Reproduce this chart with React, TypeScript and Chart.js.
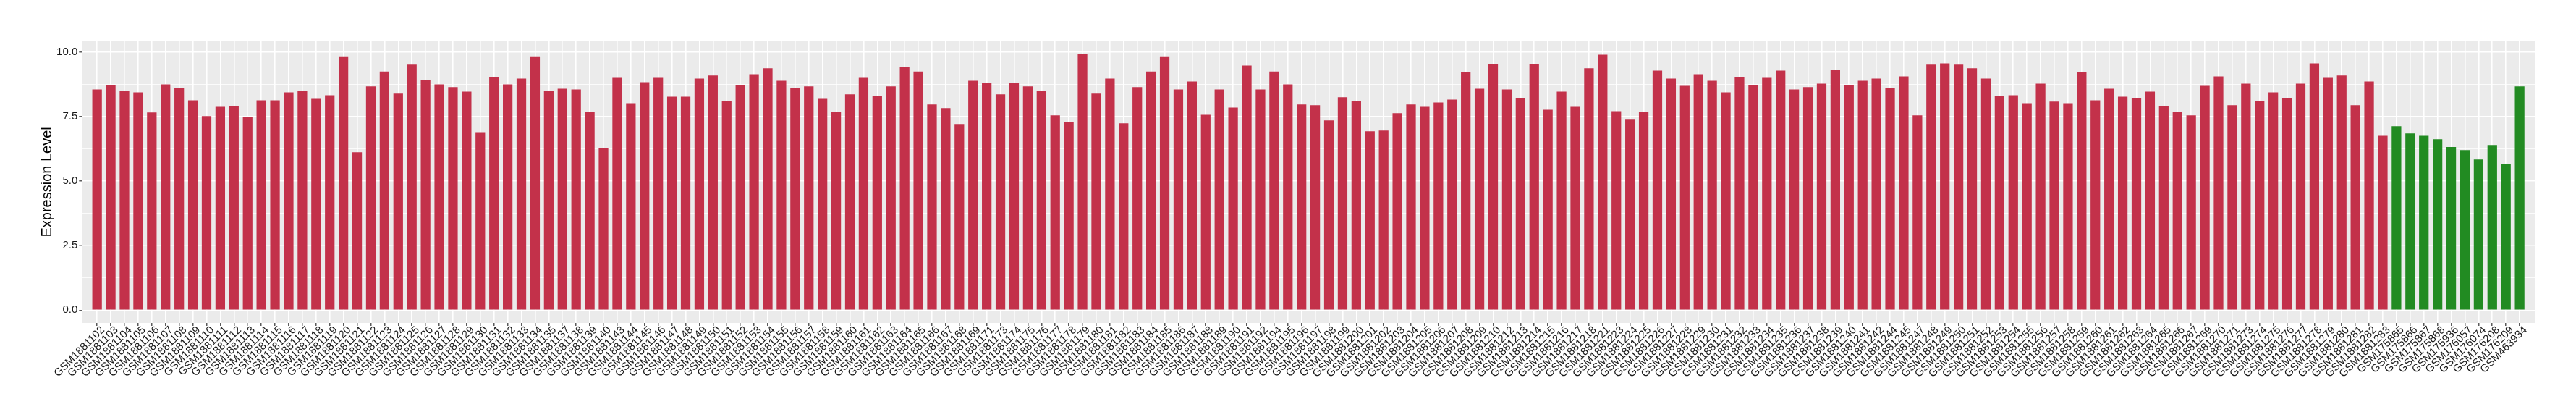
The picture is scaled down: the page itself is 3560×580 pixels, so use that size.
import { useEffect, useRef } from 'react';
import { Chart, registerables } from 'chart.js';

Chart.register(...registerables);

// ---- data ----
const tumorSamples = [
  'GSM1881102', 'GSM1881103', 'GSM1881104', 'GSM1881105', 'GSM1881106', 'GSM1881107', 'GSM1881108', 'GSM1881109',
  'GSM1881110', 'GSM1881111', 'GSM1881112', 'GSM1881113', 'GSM1881114', 'GSM1881115', 'GSM1881116', 'GSM1881117',
  'GSM1881118', 'GSM1881119', 'GSM1881120', 'GSM1881121', 'GSM1881122', 'GSM1881123', 'GSM1881124', 'GSM1881125',
  'GSM1881126', 'GSM1881127', 'GSM1881128', 'GSM1881129', 'GSM1881130', 'GSM1881131', 'GSM1881132', 'GSM1881133',
  'GSM1881134', 'GSM1881135', 'GSM1881137', 'GSM1881138', 'GSM1881139', 'GSM1881140', 'GSM1881143', 'GSM1881144',
  'GSM1881145', 'GSM1881146', 'GSM1881147', 'GSM1881148', 'GSM1881149', 'GSM1881150', 'GSM1881151', 'GSM1881152',
  'GSM1881153', 'GSM1881154', 'GSM1881155', 'GSM1881156', 'GSM1881157', 'GSM1881158', 'GSM1881159', 'GSM1881160',
  'GSM1881161', 'GSM1881162', 'GSM1881163', 'GSM1881164', 'GSM1881165', 'GSM1881166', 'GSM1881167', 'GSM1881168',
  'GSM1881169', 'GSM1881171', 'GSM1881173', 'GSM1881174', 'GSM1881175', 'GSM1881176', 'GSM1881177', 'GSM1881178',
  'GSM1881179', 'GSM1881180', 'GSM1881181', 'GSM1881182', 'GSM1881183', 'GSM1881184', 'GSM1881185', 'GSM1881186',
  'GSM1881187', 'GSM1881188', 'GSM1881189', 'GSM1881190', 'GSM1881191', 'GSM1881192', 'GSM1881194', 'GSM1881195',
  'GSM1881196', 'GSM1881197', 'GSM1881198', 'GSM1881199', 'GSM1881200', 'GSM1881201', 'GSM1881202', 'GSM1881203',
  'GSM1881204', 'GSM1881205', 'GSM1881206', 'GSM1881207', 'GSM1881208', 'GSM1881209', 'GSM1881210', 'GSM1881212',
  'GSM1881213', 'GSM1881214', 'GSM1881215', 'GSM1881216', 'GSM1881217', 'GSM1881218', 'GSM1881221', 'GSM1881223',
  'GSM1881224', 'GSM1881225', 'GSM1881226', 'GSM1881227', 'GSM1881228', 'GSM1881229', 'GSM1881230', 'GSM1881231',
  'GSM1881232', 'GSM1881233', 'GSM1881234', 'GSM1881235', 'GSM1881236', 'GSM1881237', 'GSM1881238', 'GSM1881239',
  'GSM1881240', 'GSM1881241', 'GSM1881242', 'GSM1881244', 'GSM1881245', 'GSM1881247', 'GSM1881248', 'GSM1881249',
  'GSM1881250', 'GSM1881251', 'GSM1881252', 'GSM1881253', 'GSM1881254', 'GSM1881255', 'GSM1881256', 'GSM1881257',
  'GSM1881258', 'GSM1881259', 'GSM1881260', 'GSM1881261', 'GSM1881262', 'GSM1881263', 'GSM1881264', 'GSM1881265',
  'GSM1881266', 'GSM1881267', 'GSM1881269', 'GSM1881270', 'GSM1881271', 'GSM1881273', 'GSM1881274', 'GSM1881275',
  'GSM1881276', 'GSM1881277', 'GSM1881278', 'GSM1881279', 'GSM1881280', 'GSM1881281', 'GSM1881282', 'GSM1881283',
];

const tumorValues = [
  8.55, 8.72, 8.50, 8.44, 7.66, 8.75, 8.61, 8.13, 7.52, 7.88, 7.91, 7.49, 8.13, 8.13, 8.44, 8.50,
  8.19, 8.33, 9.81, 6.12, 8.67, 9.25, 8.39, 9.51, 8.92, 8.75, 8.64, 8.47, 6.90, 9.03, 8.75, 8.97,
  9.81, 8.50, 8.58, 8.55, 7.69, 6.29, 9.00, 8.02, 8.83, 9.00, 8.27, 8.27, 8.97, 9.09, 8.11, 8.72,
  9.14, 9.37, 8.89, 8.61, 8.67, 8.19, 7.69, 8.36, 9.00, 8.30, 8.67, 9.42, 9.25, 7.97, 7.83, 7.21,
  8.89, 8.81, 8.36, 8.81, 8.67, 8.50, 7.55, 7.29, 9.93, 8.39, 8.97, 7.24, 8.64, 9.25, 9.81, 8.55,
  8.86, 7.57, 8.55, 7.85, 9.48, 8.55, 9.25, 8.75, 7.97, 7.94, 7.35, 8.25, 8.11, 6.93, 6.96, 7.63,
  7.97, 7.88, 8.05, 8.16, 9.23, 8.58, 9.53, 8.55, 8.22, 9.53, 7.77, 8.47, 7.88, 9.37, 9.90, 7.71,
  7.38, 7.69, 9.28, 8.97, 8.69, 9.14, 8.89, 8.44, 9.03, 8.72, 9.00, 9.28, 8.55, 8.64, 8.78, 9.31,
  8.72, 8.89, 8.97, 8.61, 9.06, 7.55, 9.51, 9.56, 9.51, 9.37, 8.97, 8.30, 8.33, 8.02, 8.78, 8.08,
  8.02, 9.23, 8.13, 8.58, 8.27, 8.22, 8.47, 7.91, 7.69, 7.55, 8.69, 9.06, 7.94, 8.78, 8.11, 8.44,
  8.22, 8.78, 9.56, 9.00, 9.09, 7.94, 8.86, 6.76,
];

const normalSamples = [
  'GSM175865', 'GSM175866', 'GSM175867', 'GSM175868', 'GSM175936',
  'GSM176057', 'GSM176074', 'GSM176208', 'GSM176209', 'GSM463934',
];

const normalValues = [7.13, 6.85, 6.76, 6.62, 6.32, 6.20, 5.84, 6.40, 5.67, 8.67];

const yTickValues = [0, 1.25, 2.5, 3.75, 5, 6.25, 7.5, 8.75, 10];
const yTitle = 'Expression Level';

// ---- styling / layout ----
const W = 3560;
const H = 580;
const PANEL = { left: 113.3, right: 3503, top: 56.7, bottom: 446 };
const FONT = "'Liberation Sans', Arial, Helvetica, sans-serif";
const TUMOR_COLOR = '#C3314A';
const NORMAL_COLOR = '#228B22';
const PANEL_BG = '#EBEBEB';
const TEXT_COLOR = '#1A1A1A';

const categories = [...tumorSamples, ...normalSamples];

const isMajor = (v: number) => Math.abs(v / 2.5 - Math.round(v / 2.5)) < 1e-6;

const panelBackground = {
  id: 'panelBackground',
  beforeDraw(chart: any) {
    const { ctx, chartArea } = chart;
    ctx.save();
    ctx.fillStyle = '#FFFFFF';
    ctx.fillRect(0, 0, chart.width, chart.height);
    ctx.fillStyle = PANEL_BG;
    ctx.fillRect(chartArea.left, chartArea.top, chartArea.right - chartArea.left, chartArea.bottom - chartArea.top);
    ctx.restore();
  },
};

export default function App() {
  const canvasRef = useRef<HTMLCanvasElement | null>(null);

  useEffect(() => {
    if (!canvasRef.current) return;
    const allValues = [...tumorValues, ...normalValues];
    const dataMax = Math.max(...allValues);
    const yMin = -0.05 * dataMax;
    const yMax = dataMax * 1.05;
    const n = categories.length;

    const chart = new Chart(canvasRef.current, {
      type: 'bar',
      data: {
        datasets: [
          {
            label: 'Tumor',
            data: tumorValues.map((v, i) => ({ x: i, y: v })),
            backgroundColor: TUMOR_COLOR,
            borderWidth: 0,
            barPercentage: 0.7,
            categoryPercentage: 1,
            grouped: false,
          },
          {
            label: 'Normal',
            data: normalValues.map((v, i) => ({ x: tumorValues.length + i, y: v })),
            backgroundColor: NORMAL_COLOR,
            borderWidth: 0,
            barPercentage: 0.7,
            categoryPercentage: 1,
            grouped: false,
          },
        ],
      } as any,
      options: {
        responsive: false,
        maintainAspectRatio: false,
        animation: false,
        devicePixelRatio: 1,
        layout: {
          padding: { left: 0, top: PANEL.top, right: W - PANEL.right, bottom: 0 },
        },
        plugins: {
          legend: { display: false },
          tooltip: { enabled: false },
        },
        scales: {
          x: {
            type: 'linear',
            min: -0.6,
            max: n - 1 + 0.6,
            afterBuildTicks: (s: any) => {
              s.ticks = categories.map((_, i) => ({ value: i }));
            },
            afterFit: (s: any) => {
              s.height = H - PANEL.bottom;
            },
            grid: {
              color: '#FFFFFF',
              lineWidth: 1.6,
              tickColor: '#333333',
              tickLength: 4,
              tickWidth: 1.2,
              drawOnChartArea: true,
              offset: false,
            },
            border: { display: false },
            ticks: {
              autoSkip: false,
              minRotation: 45,
              maxRotation: 45,
              padding: -3,
              labelOffset: 8,
              color: TEXT_COLOR,
              font: { family: FONT, size: 15 },
              callback: (v: any) => categories[Math.round(Number(v))] ?? '',
            },
          },
          y: {
            type: 'linear',
            min: yMin,
            max: yMax,
            afterBuildTicks: (s: any) => {
              s.ticks = yTickValues.map((v) => ({ value: v }));
            },
            afterFit: (s: any) => {
              s.width = PANEL.left;
            },
            grid: {
              color: '#FFFFFF',
              lineWidth: (c: any) => (c.tick && isMajor(c.tick.value) ? 1.6 : 0.8),
              tickColor: (c: any) => (c.tick && isMajor(c.tick.value) ? '#333333' : 'rgba(0,0,0,0)'),
              tickLength: 4,
              tickWidth: 1.2,
            },
            border: { display: false },
            ticks: {
              padding: 2,
              color: TEXT_COLOR,
              font: { family: FONT, size: 15 },
              callback: (v: any) => (isMajor(Number(v)) ? Number(v).toFixed(1) : ''),
            },
            title: {
              display: true,
              text: yTitle,
              color: '#000000',
              font: { family: FONT, size: 20 },
              padding: { top: 53, bottom: 0 },
            },
          },
        },
      } as any,
      plugins: [panelBackground],
    });

    return () => chart.destroy();
  }, []);

  return (
    <div style={{ position: 'absolute', left: 0, top: 0, width: W, height: H, background: '#FFFFFF' }}>
      <canvas ref={canvasRef} width={W} height={H} style={{ display: 'block', width: W, height: H }} />
    </div>
  );
}
